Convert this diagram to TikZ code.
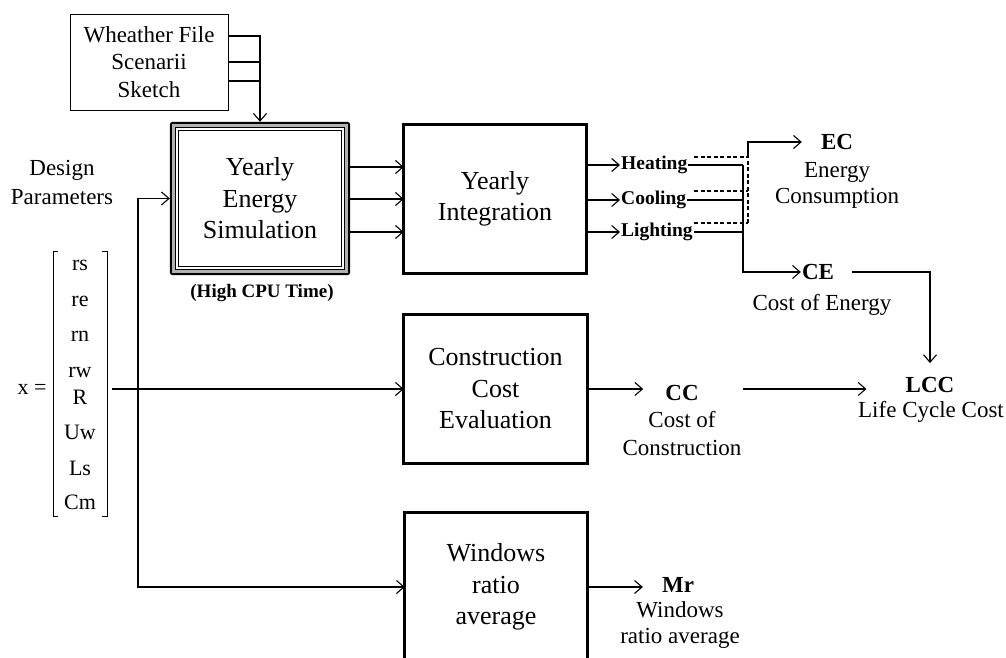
\documentclass[tikz,border=0pt]{standalone}
\usepackage{fontspec}
\setmainfont{Liberation Serif}
\usetikzlibrary{arrows.meta}
\begin{document}
\begin{tikzpicture}[x=1pt,y=-1pt,
  conn/.style={line width=1.1pt,-{Straight Barb[length=7.5pt,width=13pt,line width=1.1pt]}},
  plain/.style={line width=1.1pt},
  bigbox/.style={minimum width=182pt,minimum height=148pt,align=center,font=\fontsize{26}{31.5}\selectfont,inner sep=0pt},
  boxline/.style={line width=2.8pt},
  lbl/.style={align=center,font=\fontsize{23}{27}\selectfont,inner sep=0pt},
  key/.style={font=\fontsize{23}{27}\selectfont\bfseries,inner sep=0pt},
  outlbl/.style={font=\fontsize{19.5}{24}\selectfont\bfseries,inner sep=1pt},
  ent/.style={font=\fontsize{22}{26}\selectfont,inner sep=0pt}]
\useasboundingbox (0,0) rectangle (1006,658);

% ---------- boxes ----------
\node[draw,line width=0.9pt,minimum width=158pt,minimum height=96pt,lbl,font=\fontsize{23}{27.5}\selectfont] (weather) at (149,62) {Wheather File\\Scenarii\\Sketch};
\node[bigbox,minimum width=180pt,minimum height=153pt] (yes) at (260,198.5) {Yearly\\Energy\\Simulation};
\draw[line width=2.5pt,rounded corners=2pt] ([shift={(1.25,1.25)}]yes.north west) rectangle ([shift={(-1.25,-1.25)}]yes.south east);
\draw[gray!60,line width=2.5pt] ([shift={(3.75,3.75)}]yes.north west) rectangle ([shift={(-3.75,-3.75)}]yes.south east);
\draw[line width=1.3pt] ([shift={(5.75,5.75)}]yes.north west) rectangle ([shift={(-5.75,-5.75)}]yes.south east);
\draw[line width=0.9pt] ([shift={(8.5,8.5)}]yes.north west) rectangle ([shift={(-8.5,-8.5)}]yes.south east);
\node[font=\fontsize{19}{22}\selectfont\bfseries,inner sep=0pt] (cpu) at (262,293) {(High CPU Time)};

\node[bigbox] (yi) at (495,199) {Yearly\\Integration};
\draw[boxline] (yi.north west) rectangle (yi.south east);
\node[bigbox,minimum width=183pt] (cce) at (495.5,389) {Construction\\Cost\\Evaluation};
\draw[boxline] (cce.north west) rectangle (cce.south east);
\node[bigbox] (win) at (496,587) {Windows\\ratio\\average};
\draw[boxline] (win.north west |- 0,660) -- (win.north west) -- (win.north east) -- (win.north east |- 0,660);

% ---------- design parameters ----------
\node[lbl,font=\fontsize{23}{29}\selectfont] (design) at (62,182) {Design\\Parameters};
\node[ent] (xeq) at (32,389) {x =};
\node[ent] (m1) at (80,265) {rs};
\node[ent] (m2) at (80,301) {re};
\node[ent] (m3) at (80,336) {rn};
\node[ent] (m4) at (80,372) {rw};
\node[ent] (m5) at (80,397) {R};
\node[ent] (m6) at (80,432) {Uw};
\node[ent] (m7) at (80,468) {Ls};
\node[ent] (m8) at (80,502) {Cm};
\draw[line width=0.9pt] (58,251) -- (53,251) -- (53,516) -- (58,516);
\draw[line width=0.9pt] (102,251) -- (107,251) -- (107,516) -- (102,516);
\coordinate (xv) at (112,389);
\coordinate (jx) at (138,0);

% ---------- output labels ----------
\node[outlbl,anchor=west] (heat) at (620,165) {Heating};
\node[outlbl,anchor=west] (cool) at (620,200) {Cooling};
\node[outlbl,anchor=west] (light) at (620,232) {Lighting};

\node[key] (ec) at (837,142) {EC};
\node[lbl,font=\fontsize{23}{26}\selectfont] (ecl) at (837,185) {Energy\\Consumption};
\node[key] (ce) at (818,272) {CE};
\node[lbl] (cel) at (822,305) {Cost of Energy};
\node[key] (cc) at (682,393) {CC};
\node[lbl,font=\fontsize{23}{28}\selectfont] (ccl) at (682,434) {Cost of\\Construction};
\node[key] (lcc) at (930,385) {LCC};
\node[lbl] (lccl) at (931,412) {Life Cycle Cost};
\node[key] (mr) at (678,585) {Mr};
\node[lbl,font=\fontsize{23}{26}\selectfont] (mrl) at (680,625) {Windows\\ratio average};

% ---------- connectors ----------
\draw[conn] (weather.east |- 0,36) -| (yes.north);
\draw[plain] (weather.east) -- (weather.east -| yes.north);
\draw[plain] (weather.east |- 0,81) -- (yes.north |- 0,81);

\draw[conn] (yes.east |- 0,167) -- (yi.west |- 0,167);
\draw[conn] (yes.east |- 0,199) -- (yi.west |- 0,199);
\draw[conn] (yes.east |- 0,232) -- (yi.west |- 0,232);

\draw[conn] (yi.east |- heat.west) -- (heat.west);
\draw[conn] (yi.east |- cool.west) -- (cool.west);
\draw[conn] (yi.east |- light.west) -- (light.west);

\coordinate (sv) at (743,0);
\coordinate (dv) at (748,0);
\draw[plain] (heat.east) -- (heat.east -| sv);
\draw[plain] (cool.east) -- (cool.east -| sv);
\draw[plain] (light.east) -- (light.east -| sv);
\draw[conn,shorten >=1pt] (heat.east -| sv) |- (ce.west);

\draw[plain,dash pattern=on 4pt off 2.5pt] (694,157) -- (dv |- 0,157);
\draw[plain,dash pattern=on 4pt off 2.5pt] (694,191) -- (dv |- 0,191);
\draw[plain,dash pattern=on 4pt off 2.5pt] (694,223) -- (dv |- 0,223);
\draw[plain,dash pattern=on 4pt off 2.5pt] (dv |- 0,223) -- (dv |- 0,157);
\draw[conn,shorten >=19pt] (dv |- 0,157) |- (ec.west);

\draw[conn,shorten <=18pt,shorten >=14pt] (ce.east) -| (lcc.north);

\draw[conn] (jx |- win.west) -- (jx |- yes.west) -- (yes.west);
\draw[conn] (jx |- xv) -- (jx |- win.west) -- (win.west);
\draw[conn] (xv) -- (cce.west);

\draw[conn,shorten >=22pt] (cce.east) -- (cc.west |- cce.east);
\draw[conn,shorten <=44pt,shorten >=39pt] (cc.east |- cce.east) -- (lcc.west |- cce.east);
\draw[conn,shorten >=19pt] (win.east) -- (mr.west |- win.east);
\end{tikzpicture}
\end{document}
